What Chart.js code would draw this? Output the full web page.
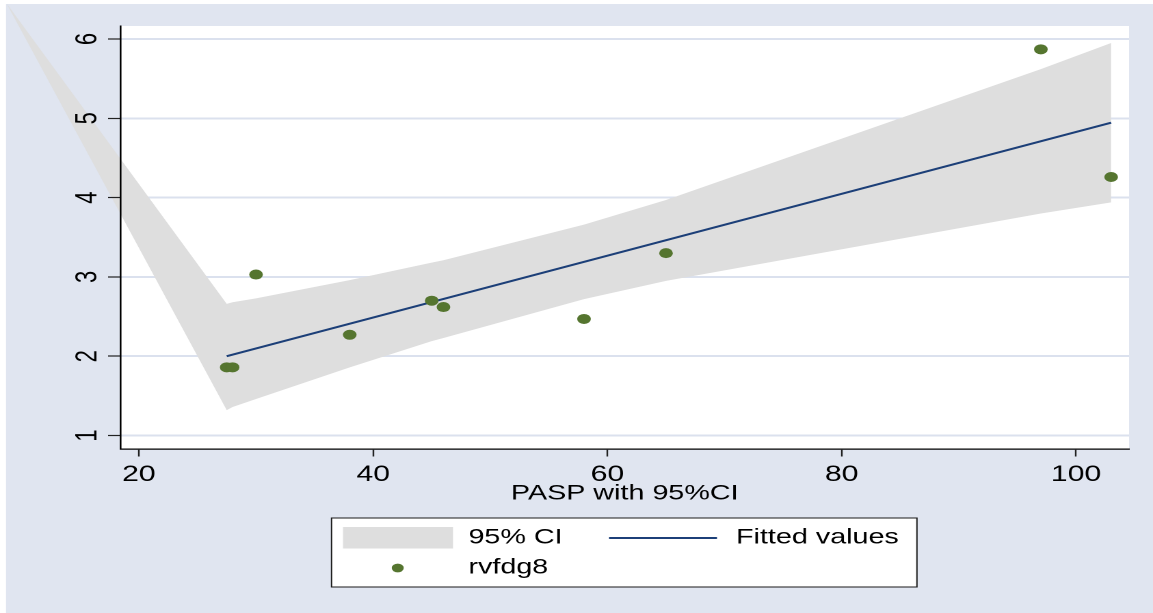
<!DOCTYPE html>
<html>
<head>
<meta charset="utf-8">
<script src="https://cdn.jsdelivr.net/npm/chart.js@4/dist/chart.umd.min.js"></script>
<style>
html, body { margin: 0; padding: 0; background: #ffffff; overflow: hidden; }
#c { display: block; }
</style>
</head>
<body>
<canvas id="c" width="843" height="613" style="width:1153px;height:613px;display:block"></canvas>
<script>
// ---- data ----
const pasp    = [27.5, 28, 30, 38, 45, 46, 58, 65, 97, 103];
const rvfdg8  = [1.86, 1.86, 3.03, 2.27, 2.70, 2.62, 2.47, 3.30, 5.87, 4.26];
const fitX    = [27.5, 103];
const fitY    = [2.00, 4.945];
const ciX     = [8.7, 27.5, 28, 30, 38, 45, 46, 58, 65, 97, 103];
const ciUpper = [6.45, 2.66, 2.68, 2.73, 2.96, 3.18, 3.21, 3.66, 3.97, 5.62, 5.95];
const ciLower = [6.45, 1.32, 1.36, 1.46, 1.86, 2.19, 2.23, 2.72, 2.95, 3.80, 3.94];
const xTicks  = [20, 40, 60, 80, 100];
const yTicks  = [1, 2, 3, 4, 5, 6];
const xTitle  = 'PASP with 95%CI';
const legendLabels = ['95% CI', 'Fitted values', 'rvfdg8'];

// ---- styles / layout ----
const LAVENDER = 'rgb(224,229,240)';
const GRID = 'rgb(219,225,238)';
const BAND = 'rgb(222,222,222)';
const NAVY = 'rgb(28,63,120)';
const GREEN = 'rgb(85,117,47)';
const FONT = "'Liberation Sans', Arial, Helvetica, sans-serif";
const GRAPH = { left: 4.4, top: 4, right: 843, bottom: 613 };
const AREA_LEFT = 88, AREA_TOP = 26, AREA_RIGHT = 825.5, AREA_BOTTOM = 449;

Chart.defaults.font.family = FONT;
Chart.defaults.color = '#000';

const pts = (xs, ys) => xs.map((x, i) => ({ x: x, y: ys[i] }));

const bgPlugin = {
  id: 'bg',
  beforeDraw(chart) {
    const ctx = chart.ctx, a = chart.chartArea;
    ctx.save();
    ctx.fillStyle = '#ffffff';
    ctx.fillRect(0, 0, chart.width, chart.height);
    ctx.fillStyle = LAVENDER;
    ctx.fillRect(GRAPH.left, GRAPH.top, GRAPH.right - GRAPH.left, GRAPH.bottom - GRAPH.top);
    ctx.fillStyle = '#ffffff';
    ctx.fillRect(a.left, a.top, a.right - a.left, a.bottom - a.top);
    ctx.restore();
  }
};

// let the CI band spill out of the plot region into the graph region (as in the reference)
const spillPlugin = {
  id: 'spill',
  beforeDatasetsDraw(chart) {
    chart.$savedArea = chart.chartArea;
    chart.chartArea = { left: GRAPH.left, top: GRAPH.top, right: GRAPH.right, bottom: GRAPH.bottom,
                        width: GRAPH.right - GRAPH.left, height: GRAPH.bottom - GRAPH.top };
  },
  afterDatasetsDraw(chart) {
    if (chart.$savedArea) chart.chartArea = chart.$savedArea;
  }
};

const legendPlugin = {
  id: 'stataLegend',
  afterDraw(chart) {
    const ctx = chart.ctx;
    const ds = chart.data.datasets;
    ctx.save();
    ctx.fillStyle = '#ffffff';
    ctx.fillRect(242.4, 518, 428, 69);
    ctx.strokeStyle = '#1a1a1a';
    ctx.lineWidth = 1;
    ctx.strokeRect(242.4, 518, 428, 69);
    ctx.fillStyle = ds[0].backgroundColor;
    ctx.fillRect(250.8, 527, 80.4, 21.5);
    ctx.strokeStyle = ds[2].borderColor;
    ctx.lineWidth = 2;
    ctx.beginPath();
    ctx.moveTo(445.3, 538); ctx.lineTo(524.2, 538);
    ctx.stroke();
    ctx.fillStyle = ds[3].pointBackgroundColor;
    ctx.beginPath();
    ctx.arc(290.8, 568, 4.4, 0, Math.PI * 2);
    ctx.fill();
    ctx.fillStyle = '#000';
    ctx.font = '21px ' + FONT;
    ctx.textBaseline = 'middle';
    ctx.textAlign = 'left';
    ctx.fillText(legendLabels[0], 342.5, 537.5);
    ctx.fillText(legendLabels[1], 538.1, 537.5);
    ctx.fillText(legendLabels[2], 342.5, 567.5);
    ctx.restore();
  }
};

new Chart(document.getElementById('c'), {
  type: 'line',
  data: {
    datasets: [
      { label: legendLabels[0], data: pts(ciX, ciUpper), order: 3, fill: 1,
        backgroundColor: BAND, borderWidth: 0, borderColor: 'rgba(0,0,0,0)', pointRadius: 0, tension: 0, clip: false },
      { label: '95% CI lower', data: pts(ciX, ciLower), order: 4, fill: false,
        backgroundColor: BAND, borderWidth: 0, borderColor: 'rgba(0,0,0,0)', pointRadius: 0, tension: 0, clip: false },
      { label: legendLabels[1], data: pts(fitX, fitY), order: 2, fill: false,
        borderColor: NAVY, borderWidth: 2, pointRadius: 0, tension: 0 },
      { label: legendLabels[2], data: pts(pasp, rvfdg8), order: 1, showLine: false, fill: false,
        pointRadius: 5, pointBackgroundColor: GREEN, pointBorderWidth: 0, pointBorderColor: GREEN }
    ]
  },
  options: {
    responsive: false,
    devicePixelRatio: 2,
    animation: false,
    events: [],
    layout: { padding: { left: 0, top: AREA_TOP, right: 843 - AREA_RIGHT, bottom: 0 } },
    plugins: { legend: { display: false }, tooltip: { enabled: false } },
    scales: {
      x: {
        type: 'linear', position: 'bottom', min: 18.42, max: 104.53,
        afterBuildTicks: s => { s.ticks = xTicks.map(v => ({ value: v })); },
        afterFit: s => { s.height = 613 - AREA_BOTTOM; },
        grid: { z: 1, drawOnChartArea: false, drawTicks: true, tickLength: 7.5, tickColor: '#222', tickWidth: 1.2 },
        border: { z: 1, display: true, color: '#000', width: 1.3 },
        ticks: { z: 1, autoSkip: false, maxRotation: 0, minRotation: 0, padding: 5, font: { size: 22 }, color: '#000' },
        title: { display: true, text: xTitle, font: { size: 21 }, color: '#000', padding: { top: 0, bottom: 106.7 } }
      },
      y: {
        type: 'linear', position: 'left', min: 0.83, max: 6.164, weight: 0,
        afterBuildTicks: s => { s.ticks = yTicks.map(v => ({ value: v })); },
        afterFit: s => { s.width = 0; },
        grid: { z: -1, drawOnChartArea: true, drawTicks: false, color: GRID, lineWidth: 2 },
        border: { display: false },
        ticks: { display: false }
      },
      y2: {
        type: 'linear', position: 'left', min: 0.83, max: 6.164, weight: 1,
        afterBuildTicks: s => { s.ticks = yTicks.map(v => ({ value: v })); },
        afterFit: s => { s.width = AREA_LEFT; },
        grid: { z: 1, drawOnChartArea: false, drawTicks: true, tickLength: 9, tickColor: '#222', tickWidth: 1.2 },
        border: { z: 1, display: true, color: '#000', width: 1.3 },
        ticks: { z: 1, autoSkip: false, minRotation: 90, maxRotation: 90, crossAlign: 'center', padding: 8.6,
                 font: { size: 22 }, color: '#000' }
      }
    }
  },
  plugins: [bgPlugin, spillPlugin, legendPlugin]
});
</script>
</body>
</html>
